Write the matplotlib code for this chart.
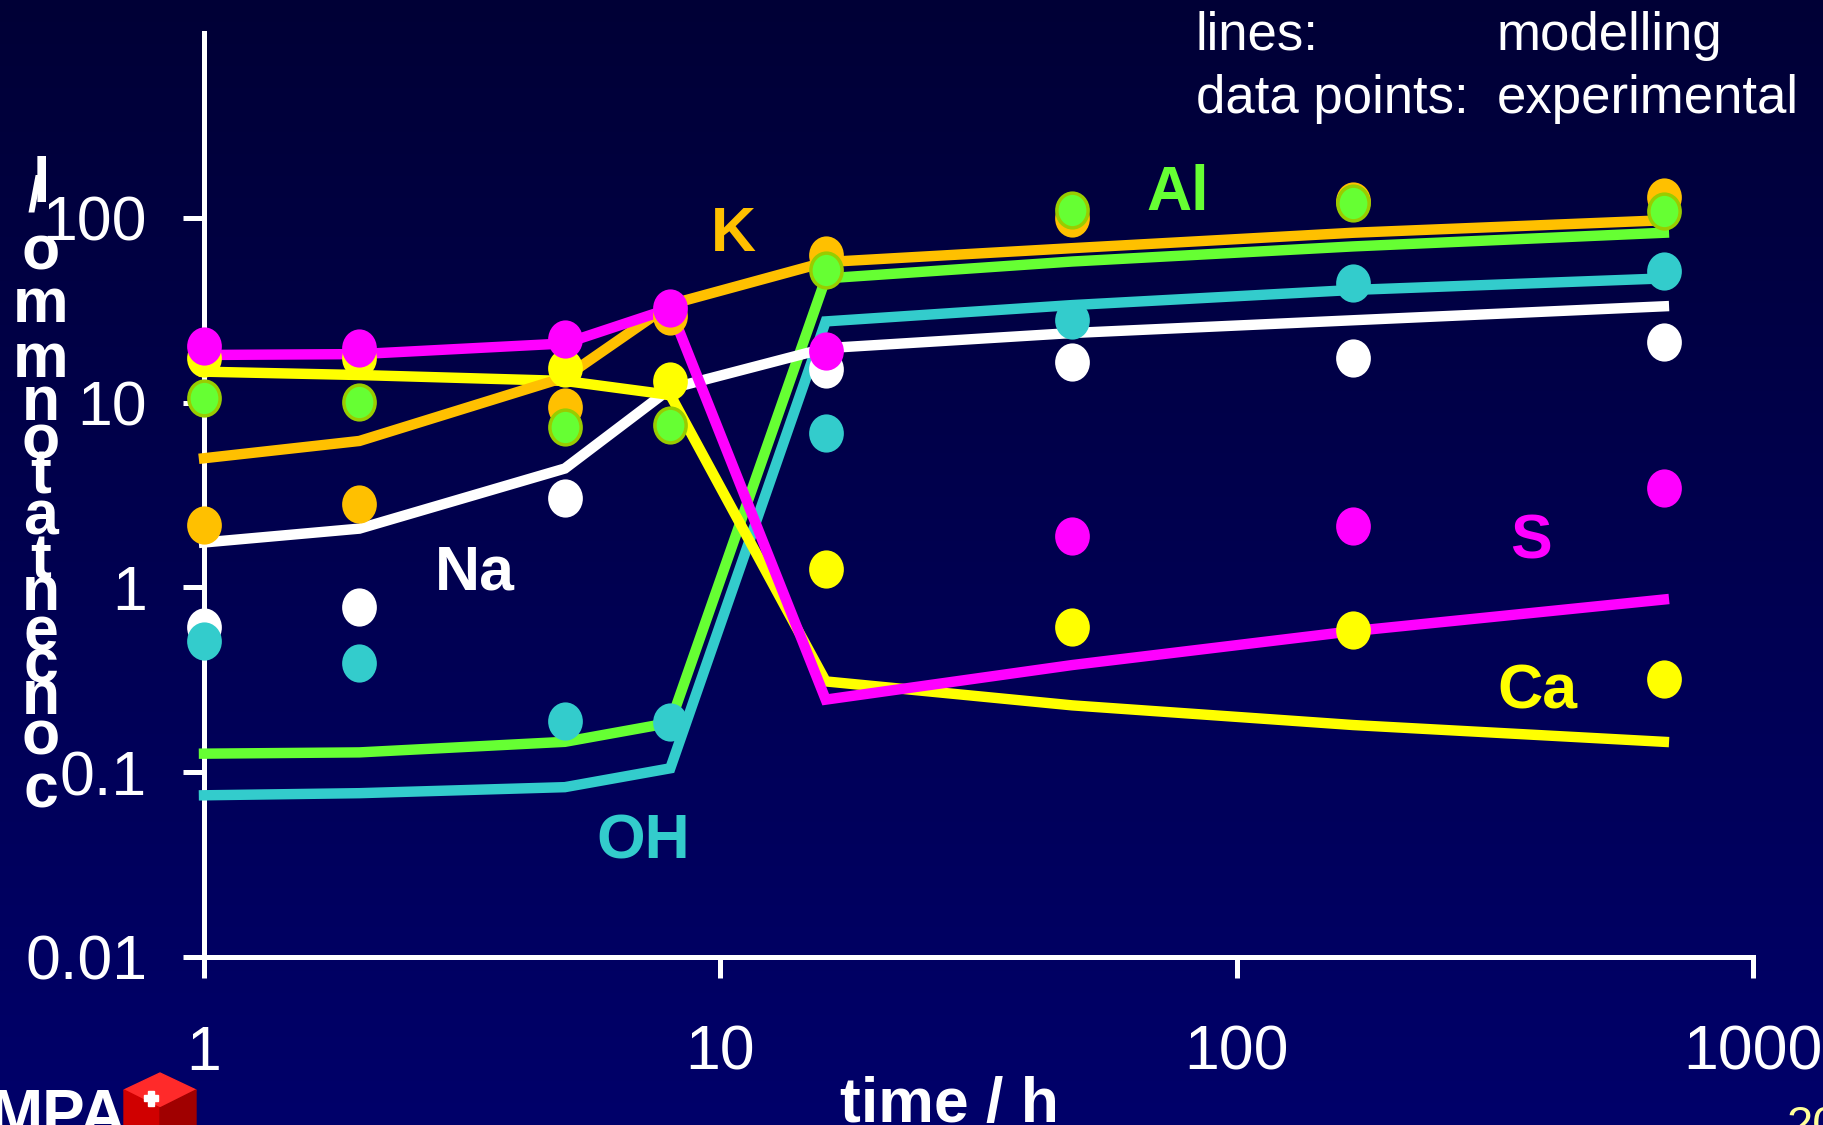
import numpy as np
import matplotlib
matplotlib.use("Agg")
import matplotlib.pyplot as plt
from matplotlib.path import Path
from matplotlib.patches import Polygon

plt.rcParams["font.family"] = ["Liberation Sans", "DejaVu Sans"]

# sampling times, hours
hours = [1, 2, 5, 8, 16, 48, 168, 672]

# modelling (lines), mmol/l
K_model = [5.0, 6.2, 13.7, 34.0, 57.6, 68.5, 83.0, 97.0]
Al_model = [0.126, 0.128, 0.146, 0.185, 47.0, 58.0, 70.0, 83.0]
OH_model = [0.075, 0.077, 0.083, 0.105, 27.5, 33.7, 40.7, 47.0]
Na_model = [1.75, 2.08, 4.4, 11.9, 19.7, 23.8, 27.9, 33.2]
Ca_model = [14.7, 14.1, 13.1, 11.0, 0.31, 0.23, 0.18, 0.146]
S_model = [18.1, 18.3, 20.9, 32.3, 0.247, 0.38, 0.58, 0.86]

# experimental (data points), mmol/l
K_exp = [2.17, 2.82, 9.5, 29.6, 62.8, 100.0, 124.0, 130.0]
Al_exp = [10.6, 10.1, 7.35, 7.6, 52.0, 110.0, 121.0, 109.0]
OH_exp = [0.51, 0.39, 0.19, 0.187, 6.84, 27.9, 44.4, 51.3]
Na_exp = [0.61, 0.78, 3.03, np.nan, 15.2, 16.6, 17.5, 21.2]
Ca_exp = [17.5, 17.5, 15.4, 13.1, 1.25, 0.61, 0.59, 0.32]
S_exp = [20.3, 19.7, 22.1, 32.7, 19.1, 1.9, 2.14, 3.46]

x_ticks = [1, 10, 100, 1000]
x_ticklabels = ["1", "10", "100", "1000"]
y_ticks = [0.01, 0.1, 1, 10, 100]
y_ticklabels = ["0.01", "0.1", "1", "10", "100"]

C_K = "#FFC000"
C_AL = "#66FF33"
C_OH = "#33CCCC"
C_NA = "#FFFFFF"
C_CA = "#FFFF00"
C_S = "#FF00FF"

W, H = 1824, 1125
fig = plt.figure(figsize=(W / 100, H / 100), dpi=100)

# slide background: dark navy gradient
bg = fig.add_axes([0, 0, 1, 1], zorder=-10)
grad = np.linspace(0, 1, 256).reshape(-1, 1)
top = np.array([0x00, 0x00, 0x36]) / 255
bot = np.array([0x00, 0x00, 0x6A]) / 255
img = top + (bot - top) * grad[:, :, None]
bg.imshow(img, aspect="auto", extent=[0, 1, 0, 1], origin="upper")
bg.set_axis_off()

ax = fig.add_axes([204 / W, 1 - 957 / H, (1753 - 204) / W, (957 - 33) / H])
ax.set_facecolor("none")
ax.set_xscale("log")
ax.set_yscale("log")
ax.set_xlim(1, 1000)
ax.set_ylim(0.01, 1000)

# slightly tall elliptic markers like the slide
circ = Path.unit_circle()
ell = Path(circ.vertices * np.array([0.9, 1.0]), circ.codes)

lw = 7.5
for ys, c in [(OH_model, C_OH), (Al_model, C_AL), (Na_model, C_NA),
              (Ca_model, C_CA), (K_model, C_K), (S_model, C_S)]:
    ax.plot(hours, ys, color=c, lw=lw, solid_joinstyle="miter", zorder=3,
            clip_on=False)

for ys, c, ec in [(Ca_exp, C_CA, C_CA), (K_exp, C_K, C_K), (Na_exp, C_NA, C_NA),
                  (Al_exp, C_AL, "#99CC00"), (OH_exp, C_OH, C_OH), (S_exp, C_S, C_S)]:
    ax.plot(hours, ys, ls="none", marker=ell, ms=25, mfc=c, mec=ec, mew=2.5,
            zorder=4, clip_on=False)

ax.minorticks_off()
ax.set_xticks(x_ticks)
ax.set_xticklabels(x_ticklabels)
ax.set_yticks(y_ticks)
ax.set_yticklabels(y_ticklabels)
for s in ["top", "right"]:
    ax.spines[s].set_visible(False)
for s in ["left", "bottom"]:
    ax.spines[s].set_color("white")
    ax.spines[s].set_linewidth(3.6)
ax.tick_params(axis="both", which="major", colors="white", length=15, width=3.6,
               direction="out", labelsize=45)
ax.tick_params(axis="x", pad=33)
ax.tick_params(axis="y", pad=26)

# element labels
lab = dict(fontsize=45, fontweight="bold", ha="center", va="center", zorder=5)
ax.text(10.6, 81, "K", color=C_K, **lab)
ax.text(76.9, 136, "Al", color=C_AL, **lab)
ax.text(3.34, 1.2, "Na", color=C_NA, **lab)
ax.text(7.1, 0.042, "OH", color=C_OH, **lab)
ax.text(371, 1.76, "S", color=C_S, **lab)
ax.text(383, 0.273, "Ca", color=C_CA, **lab)

# x label
fig.text(949 / W, 1 - 1122 / H, "time / h", color="white", fontsize=45,
         fontweight="bold", ha="center", va="baseline")

# y label as stacked letters (as on the slide)
ylab = ["l", "o", "m", "m", "n", "o", "t", "a", "t", "n", "e", "c", "n", "o", "c"]
ylab_y = [186, 253, 306, 360, 404, 442, 477, 518, 562, 593, 634, 666, 698, 738, 791]
for ch, yy in zip(ylab, ylab_y):
    fig.text(41 / W, 1 - yy / H, ch, color="white", fontsize=45,
             fontweight="bold", ha="center", va="center")
fig.text(34 / W, 1 - 198 / H, "/", color="white", fontsize=36,
         fontweight="bold", ha="center", va="center")

# legend note
note = dict(color="white", fontsize=38, ha="left", va="baseline")
fig.text(1196 / W, 1 - 50 / H, "lines:", **note)
fig.text(1497 / W, 1 - 50 / H, "modelling", **note)
fig.text(1196 / W, 1 - 113 / H, "data points:", **note)
fig.text(1497 / W, 1 - 113 / H, "experimental", **note)

# footer: logo and slide number
fig.text(-10 / W, 1 - 1135 / H, "MPA", color="white", fontsize=46,
         fontweight="bold", ha="left", va="baseline")


def poly(pts, color):
    p = [(x / W, 1 - y / H) for x, y in pts]
    fig.patches.append(Polygon(p, closed=True, color=color,
                               transform=fig.transFigure, zorder=5))


poly([(124, 1090), (160, 1073), (196, 1090), (160, 1108)], "#FF2A2A")
poly([(124, 1090), (160, 1108), (160, 1125), (124, 1125)], "#D00000")
poly([(160, 1108), (196, 1090), (196, 1125), (160, 1125)], "#A00000")
poly([(144, 1101), (158, 1101), (158, 1095), (144, 1095)], "white")
poly([(148, 1091), (154, 1091), (154, 1106), (148, 1106)], "white")

fig.text(1787 / W, 1 - 1105 / H, "20", color="#FFFF99", fontsize=34,
         ha="left", va="top")

fig.savefig("out.png", dpi=100, facecolor="#000040")
